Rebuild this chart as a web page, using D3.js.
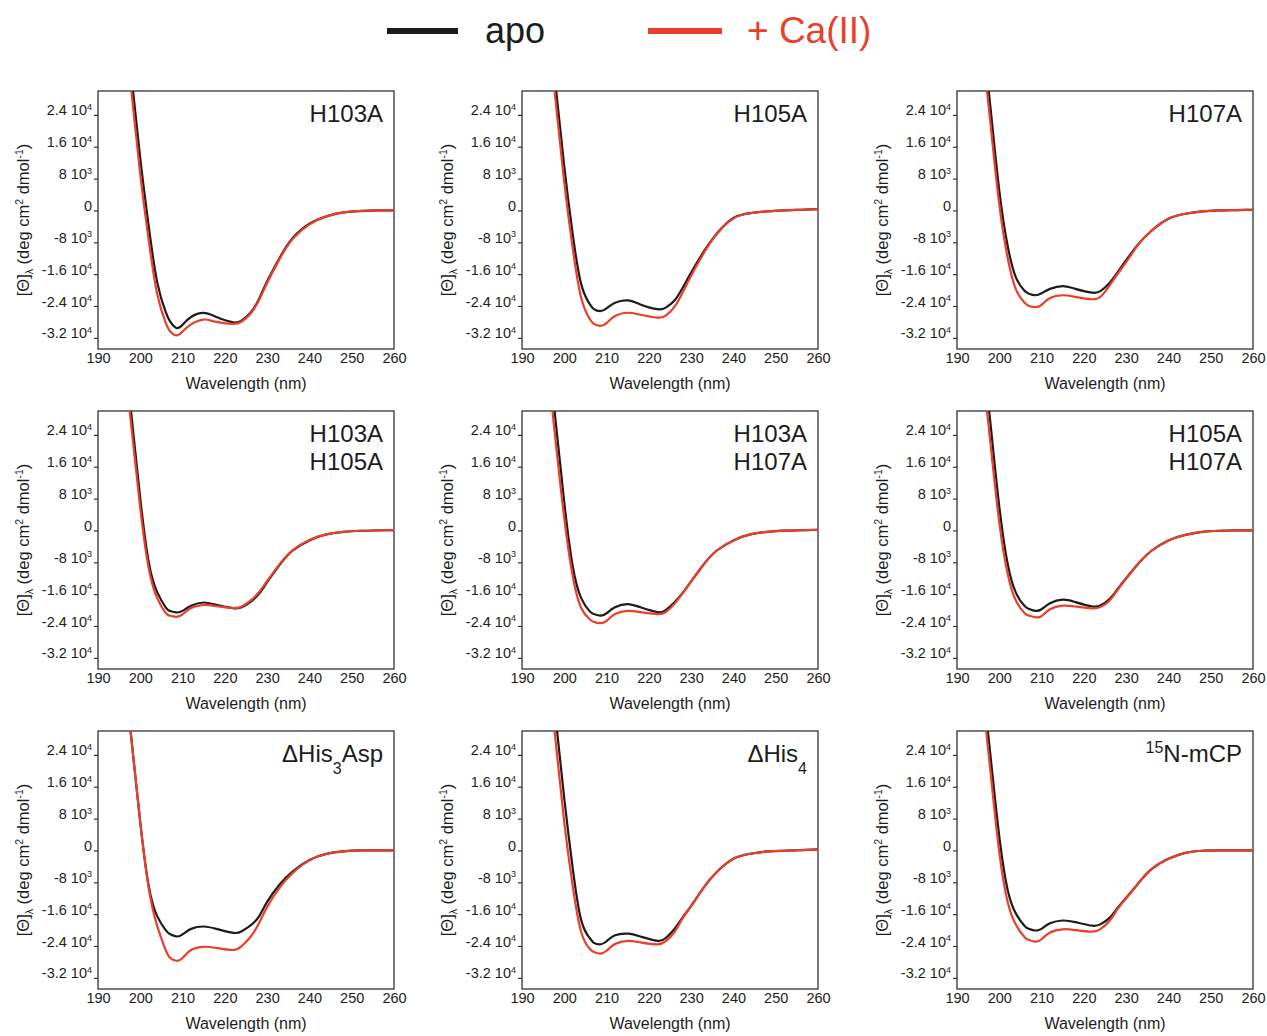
<!DOCTYPE html>
<html>
<head>
<meta charset="utf-8">
<script src="https://cdn.jsdelivr.net/npm/d3@7"></script>
<style>
    body { margin: 0; background: #fff; }
    svg { display: block; font-family: "Liberation Sans", Arial, sans-serif; }
</style>
</head>
<body>
<div id="cd-viz"></div>
<script>
// wavelength grid (nm) the curves were read at
const wavelengths = [196, 198, 200, 202, 204, 206, 207, 208.5, 210, 212, 215, 218, 222, 224, 226, 228, 230, 233, 236, 240, 244, 248, 252, 256, 260];

// mean residue ellipticity, deg cm2 dmol-1
const h103aApo = [53000, 33000, 13000, -4000, -18000, -25500, -27800, -29500, -28700, -26750, -25750, -26750, -28100, -27600, -25750, -22400, -17800, -11800, -7000, -3350, -1500, -500, -150, 0, 0];
const h103aCa = [49000, 29000, 9000, -7500, -21000, -28200, -30300, -31400, -30400, -28600, -27400, -28000, -28500, -27900, -26000, -22700, -18200, -12100, -7200, -3500, -1500, -500, -100, 0, 0];
const h105aApo = [51000, 31000, 11000, -6000, -18500, -23500, -24800, -25300, -24600, -23200, -22600, -23600, -24800, -24400, -22700, -19400, -15600, -10300, -5900, -1900, -670, -250, 0, 170, 340];
const h105aCa = [47000, 27000, 7000, -9500, -22000, -27200, -28500, -29000, -28300, -26500, -25700, -26200, -26900, -26400, -24300, -20600, -16400, -10700, -6000, -2000, -700, -250, 0, 170, 340];
const h107aApo = [45000, 25000, 5000, -9000, -17000, -20200, -20900, -21300, -20800, -19700, -19000, -19700, -20650, -20200, -18300, -15500, -12500, -8300, -5100, -2100, -840, -250, 0, 80, 170];
const h107aCa = [41000, 21000, 1500, -12000, -20000, -23200, -24000, -24300, -23700, -22000, -21300, -21700, -22300, -21600, -19000, -15900, -13000, -8400, -5100, -2100, -840, -250, 0, 80, 170];
const h103h105Apo = [48000, 28000, 8000, -8000, -15500, -19300, -20200, -20600, -20200, -18900, -18100, -18700, -19500, -19300, -18000, -16000, -13000, -8600, -5100, -2500, -1000, -340, -80, 0, 80];
const h103h105Ca = [45000, 25000, 5500, -9500, -17000, -20700, -21400, -21700, -21100, -19500, -18700, -19000, -19500, -19100, -17700, -15600, -12700, -8400, -5000, -2400, -1000, -340, -80, 0, 80];
const h103h107Apo = [47000, 27000, 7000, -9000, -17000, -20300, -21000, -21400, -20800, -19300, -18500, -19300, -20500, -20000, -18100, -15700, -12800, -8500, -5100, -2500, -1000, -340, -50, 50, 170];
const h103h107Ca = [42000, 22000, 3000, -11500, -19500, -22300, -23000, -23300, -22700, -21000, -20200, -20500, -21000, -20500, -18500, -15700, -12800, -8500, -5100, -2500, -1000, -340, -50, 50, 170];
const h105h107Apo = [46000, 26000, 6000, -8500, -15800, -19000, -19700, -20200, -19800, -18300, -17400, -18000, -19100, -18800, -17300, -14700, -12000, -8200, -5100, -2500, -1100, -340, -80, 0, 0];
const h105h107Ca = [41000, 21000, 2000, -11000, -17800, -20800, -21400, -21800, -21500, -19800, -18900, -19100, -19600, -19200, -17700, -14900, -12100, -8200, -5100, -2500, -1100, -340, -80, 0, 0];
const his3AspApo = [47000, 27000, 7000, -9000, -16500, -20000, -21000, -21600, -21100, -19700, -19100, -19700, -20700, -20300, -18900, -16700, -12900, -8500, -5300, -2400, -850, -250, 0, 0, 0];
const his3AspCa = [47000, 27000, 7000, -9500, -19000, -25000, -26900, -27700, -27000, -25000, -24200, -24500, -25000, -24000, -21800, -18400, -14200, -9300, -5700, -2500, -900, -250, 0, 0, 0];
const his4Apo = [53000, 33000, 13000, -4500, -17500, -22000, -23200, -23600, -22800, -21300, -20900, -21600, -22700, -22000, -19800, -16800, -13900, -9300, -5500, -2100, -840, -250, -80, 80, 250];
const his4Ca = [47000, 27000, 7000, -9000, -20500, -24700, -25500, -25900, -25200, -23500, -22700, -23100, -23600, -22800, -20600, -17000, -14000, -9300, -5500, -2100, -840, -250, -80, 80, 250];
const mcpApo = [43000, 23000, 3500, -10000, -16000, -19000, -19700, -20100, -19700, -18300, -17600, -18000, -18900, -18500, -17000, -14400, -11900, -8100, -4700, -2100, -600, -80, 0, 0, 0];
const mcpCa = [39000, 19000, -500, -13000, -18800, -21800, -22500, -22900, -22300, -20600, -19800, -20000, -20400, -19700, -17800, -14700, -12000, -8100, -4700, -2100, -600, -80, 0, 0, 0];

// panel titles, as [text, "sub" | "sup" | ""] parts, one list per line
const panelTitles = [
    [[["H103A", ""]]],
    [[["H105A", ""]]],
    [[["H107A", ""]]],
    [[["H103A", ""]], [["H105A", ""]]],
    [[["H103A", ""]], [["H107A", ""]]],
    [[["H105A", ""]], [["H107A", ""]]],
    [[["\u0394His", ""], ["3", "sub"], ["Asp", ""]]],
    [[["\u0394His", ""], ["4", "sub"]]],
    [[["15", "sup"], ["N-mCP", ""]]]
];
const panelApo = [h103aApo, h105aApo, h107aApo, h103h105Apo, h103h107Apo, h105h107Apo, his3AspApo, his4Apo, mcpApo];
const panelCa = [h103aCa, h105aCa, h107aCa, h103h105Ca, h103h107Ca, h105h107Ca, his3AspCa, his4Ca, mcpCa];

const xTicks = [190, 200, 210, 220, 230, 240, 250, 260];
const yTicks = [-32000, -24000, -16000, -8000, 0, 8000, 16000, 24000];
const yTickBase = ["-3.2 10", "-2.4 10", "-1.6 10", "-8 10", "0", "8 10", "1.6 10", "2.4 10"];
const yTickExp = ["4", "4", "4", "3", "", "3", "4", "4"];

const seriesNames = ["apo", "+ Ca(II)"];

document.addEventListener('DOMContentLoaded', () => {
    const width = 1267;
    const height = 1036;
    const ink = "#1c1c1c";
    const red = "#ea3f2a";

    const colLeft = [98, 522, 957];
    const rowTop = [91, 411, 731];
    const plotW = 296;
    const plotH = 258;

    const svg = d3.select("#cd-viz")
        .append("svg")
        .attr("width", width)
        .attr("height", height);

    // text with sub / superscript pieces
    function richText(text, parts, size, subShift, supShift, small) {
        let shift = 0;
        parts.forEach(([str, kind]) => {
            const target = kind === "sup" ? -supShift : kind === "sub" ? subShift : 0;
            text.append("tspan")
                .attr("dy", target - shift)
                .style("font-size", (kind ? small : size) + "px")
                .text(str);
            shift = target;
        });
    }

    // legend
    const legend = svg.append("g");
    legend.append("line")
        .attr("x1", 387).attr("x2", 458)
        .attr("y1", 31).attr("y2", 31)
        .attr("stroke", ink)
        .attr("stroke-width", 6);
    legend.append("text")
        .attr("x", 485).attr("y", 43)
        .attr("font-size", 36)
        .attr("fill", ink)
        .text(seriesNames[0]);
    legend.append("line")
        .attr("x1", 648).attr("x2", 722)
        .attr("y1", 31).attr("y2", 31)
        .attr("stroke", red)
        .attr("stroke-width", 6);
    legend.append("text")
        .attr("x", 747).attr("y", 43)
        .attr("font-size", 37)
        .attr("fill", red)
        .text(seriesNames[1]);

    panelTitles.forEach((title, i) => {
        const col = i % 3;
        const row = Math.floor(i / 3);
        const left = colLeft[col];
        const top = rowTop[row];

        const x = d3.scaleLinear().domain([190, 260]).range([0, plotW]);
        const y = d3.scaleLinear().domain([-34800, 30000]).range([plotH, 0]);

        const g = svg.append("g")
            .attr("transform", `translate(${left},${top})`);

        g.append("clipPath")
            .attr("id", `clip${i}`)
            .append("rect")
            .attr("width", plotW)
            .attr("height", plotH);

        // axes
        const xAxis = g.append("g")
            .attr("transform", `translate(0,${plotH})`)
            .call(d3.axisBottom(x).tickValues(xTicks).tickSize(0).tickPadding(4).tickFormat(d3.format("d")));
        xAxis.select(".domain").remove();
        xAxis.selectAll(".tick text")
            .attr("font-size", 14.5)
            .attr("font-family", "Liberation Sans, Arial, sans-serif")
            .attr("fill", ink);

        const yAxis = g.append("g")
            .call(d3.axisLeft(y).tickValues(yTicks).tickSize(4).tickPadding(2));
        yAxis.select(".domain").remove();
        yAxis.selectAll(".tick line").attr("stroke", "#333").attr("stroke-width", 1.2);
        yAxis.selectAll(".tick text")
            .attr("font-family", "Liberation Sans, Arial, sans-serif")
            .attr("fill", ink)
            .text(null)
            .each(function(d) {
                const k = yTicks.indexOf(d);
                const parts = [[yTickBase[k], ""]];
                if (yTickExp[k]) parts.push([yTickExp[k], "sup"]);
                richText(d3.select(this), parts, 14.5, 0, 5.5, 9);
            });

        // frame
        g.append("rect")
            .attr("width", plotW)
            .attr("height", plotH)
            .attr("fill", "none")
            .attr("stroke", "#333")
            .attr("stroke-width", 1.3);

        // curves
        const line = d3.line()
            .x(d => x(d[0]))
            .y(d => y(d[1]))
            .curve(d3.curveNatural);

        const curves = g.append("g").attr("clip-path", `url(#clip${i})`);
        [[panelApo[i], ink], [panelCa[i], red]].forEach(([vals, color]) => {
            curves.append("path")
                .datum(wavelengths.map((w, j) => [w, vals[j]]))
                .attr("fill", "none")
                .attr("stroke", color)
                .attr("stroke-width", 2.2)
                .attr("stroke-linejoin", "round")
                .attr("d", line);
        });

        // title
        title.forEach((parts, li) => {
            const t = g.append("text")
                .attr("x", plotW - 11)
                .attr("y", 31 + li * 28)
                .attr("text-anchor", "end")
                .attr("fill", ink);
            richText(t, parts, 24, 12, 9, 16);
        });

        // axis titles
        g.append("text")
            .attr("x", plotW / 2)
            .attr("y", plotH + 40)
            .attr("text-anchor", "middle")
            .attr("font-size", 16)
            .attr("fill", ink)
            .text("Wavelength (nm)");

        const yl = g.append("text")
            .attr("transform", `translate(-69,${plotH / 2}) rotate(-90)`)
            .attr("text-anchor", "middle")
            .attr("fill", ink);
        richText(yl, [["[\u0398]", ""], ["\u03bb", "sub"], [" (deg cm", ""], ["2", "sup"], [" dmol", ""], ["-1", "sup"], [")", ""]], 16.5, 4, 6, 10.5);
    });
});
</script>
</body>
</html>
